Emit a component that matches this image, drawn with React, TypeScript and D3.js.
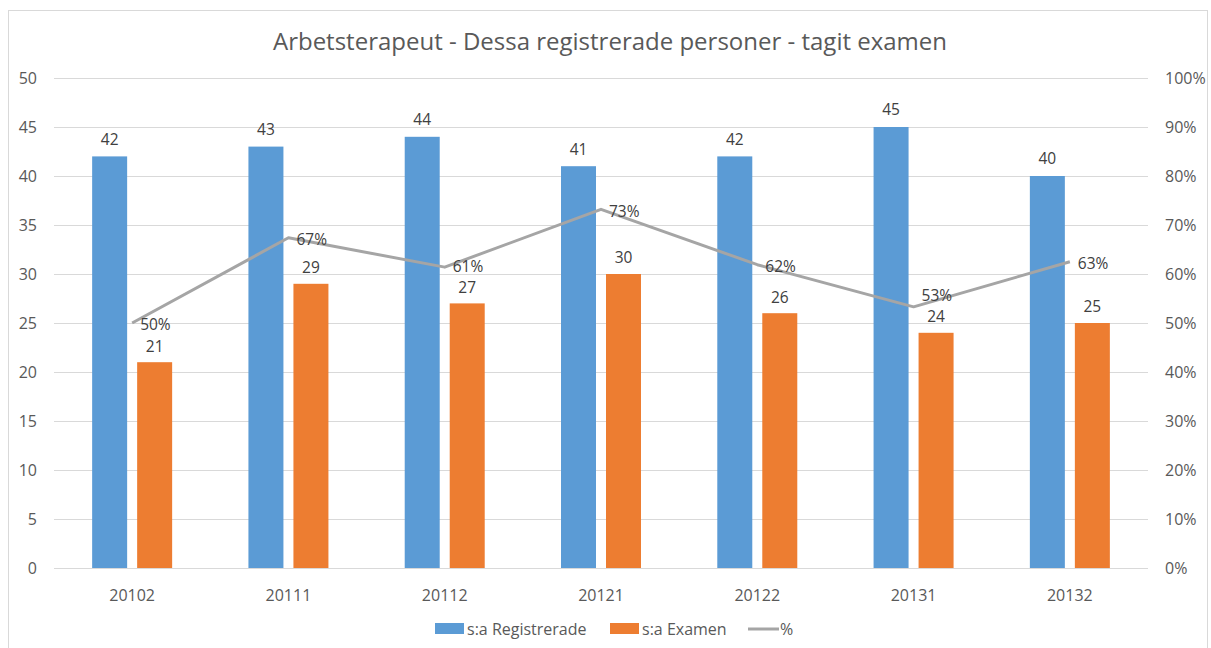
import React, { useEffect, useRef } from 'react';
import * as d3 from 'd3';

const categories = ['20102', '20111', '20112', '20121', '20122', '20131', '20132'];
const registrerade = [42, 43, 44, 41, 42, 45, 40];
const examen = [21, 29, 27, 30, 26, 24, 25];
const percent = [0.5, 0.674, 0.614, 0.732, 0.619, 0.533, 0.625];
const percentLabels = ['50%', '67%', '61%', '73%', '62%', '53%', '63%'];
const leftTicks = [0, 5, 10, 15, 20, 25, 30, 35, 40, 45, 50];
const rightTicks = [0, 0.1, 0.2, 0.3, 0.4, 0.5, 0.6, 0.7, 0.8, 0.9, 1];

const W = 1211;
const H = 648;
const FONT = '"Open Sans", "Liberation Sans", sans-serif';

export default function App() {
  const ref = useRef<SVGSVGElement>(null);

  useEffect(() => {
    const svg = d3.select(ref.current);
    svg.selectAll('*').remove();

    const margin = { left: 54, right: 63, top: 78, bottom: 80 };
    const width = W - margin.left - margin.right;
    const height = H - margin.top - margin.bottom;

    // outer frame
    svg.append('rect')
      .attr('x', 8.5).attr('y', 10.5)
      .attr('width', W - 12).attr('height', H - 8)
      .attr('fill', '#fff').attr('stroke', '#d9d9d9');

    svg.append('text')
      .attr('x', 610).attr('y', 50)
      .attr('text-anchor', 'middle')
      .attr('font-size', '24px')
      .attr('fill', '#595959')
      .text('Arbetsterapeut - Dessa registrerade personer - tagit examen');

    const g = svg.append('g').attr('transform', `translate(${margin.left}, ${margin.top})`);

    const x = d3.scaleBand().domain(categories).range([0, width]);
    const y = d3.scaleLinear().domain([0, 50]).range([height, 0]);
    const y2 = d3.scaleLinear().domain([0, 1]).range([height, 0]);

    // grid
    g.selectAll('.grid').data(leftTicks).enter().append('line')
      .attr('x1', 0).attr('x2', width)
      .attr('y1', d => Math.round(y(d)) + 0.5).attr('y2', d => Math.round(y(d)) + 0.5)
      .attr('stroke', '#d9d9d9').attr('stroke-width', 1);

    // left axis labels
    g.selectAll('.ly').data(leftTicks).enter().append('text')
      .attr('x', -17).attr('y', d => y(d)).attr('dy', '0.35em')
      .attr('text-anchor', 'end').attr('font-size', '16px').attr('fill', '#595959')
      .text(d => d);

    // right axis labels
    g.selectAll('.ry').data(rightTicks).enter().append('text')
      .attr('x', width + 17).attr('y', d => y2(d)).attr('dy', '0.35em')
      .attr('text-anchor', 'start').attr('font-size', '16px').attr('fill', '#595959')
      .text(d => d3.format('.0%')(d));

    // x labels
    g.selectAll('.xl').data(categories).enter().append('text')
      .attr('x', d => x(d)! + x.bandwidth() / 2).attr('y', height + 27).attr('dy', '0.35em')
      .attr('text-anchor', 'middle').attr('font-size', '16px').attr('fill', '#595959')
      .text(d => d);

    const barW = 35;
    const gap = 10;
    const center = (c: string) => x(c)! + x.bandwidth() / 2;

    g.selectAll('.reg').data(categories).enter().append('rect')
      .attr('x', (c) => center(c) - gap / 2 - barW)
      .attr('y', (c, i) => y(registrerade[i]))
      .attr('width', barW)
      .attr('height', (c, i) => height - y(registrerade[i]))
      .attr('fill', '#5b9bd5');

    g.selectAll('.exa').data(categories).enter().append('rect')
      .attr('x', (c) => center(c) + gap / 2)
      .attr('y', (c, i) => y(examen[i]))
      .attr('width', barW)
      .attr('height', (c, i) => height - y(examen[i]))
      .attr('fill', '#ed7d31');

    const labelGap = 16;

    g.selectAll('.regl').data(categories).enter().append('text')
      .attr('x', (c) => center(c) - gap / 2 - barW / 2)
      .attr('y', (c, i) => y(registrerade[i]) - 17).attr('dy', '0.35em')
      .attr('text-anchor', 'middle').attr('font-size', '15.5px').attr('fill', '#404040')
      .text((c, i) => registrerade[i]);

    g.selectAll('.exal').data(categories).enter().append('text')
      .attr('x', (c) => center(c) + gap / 2 + barW / 2)
      .attr('y', (c, i) => y(examen[i]) - labelGap).attr('dy', '0.35em')
      .attr('text-anchor', 'middle').attr('font-size', '15.5px').attr('fill', '#404040')
      .text((c, i) => examen[i]);

    const line = d3.line<number>()
      .x((d, i) => center(categories[i]))
      .y(d => y2(d));

    g.append('path')
      .datum(percent)
      .attr('d', line)
      .attr('fill', 'none')
      .attr('stroke', '#a5a5a5')
      .attr('stroke-width', 3)
      .attr('stroke-linejoin', 'round');

    // percent labels right of the point, nudged up if they would hit the bar label
    g.selectAll('.pl').data(percent).enter().append('text')
      .attr('x', (d, i) => center(categories[i]) + 8)
      .attr('y', (d, i) => Math.min(y2(d) + 2, y(examen[i]) - labelGap - 21))
      .attr('dy', '0.35em')
      .attr('font-size', '15.5px').attr('fill', '#404040')
      .text((d, i) => percentLabels[i]);

    // legend
    const leg = svg.append('g').attr('font-size', '16px').attr('fill', '#595959');
    leg.append('rect').attr('x', 435).attr('y', 623).attr('width', 29).attr('height', 11).attr('fill', '#5b9bd5');
    leg.append('text').attr('x', 467).attr('y', 629).attr('dy', '0.35em').text('s:a Registrerade');
    leg.append('rect').attr('x', 610).attr('y', 623).attr('width', 29).attr('height', 11).attr('fill', '#ed7d31');
    leg.append('text').attr('x', 642).attr('y', 629).attr('dy', '0.35em').text('s:a Examen');
    leg.append('line').attr('x1', 748).attr('x2', 779).attr('y1', 629).attr('y2', 629)
      .attr('stroke', '#a5a5a5').attr('stroke-width', 3);
    leg.append('text').attr('x', 780).attr('y', 629).attr('dy', '0.35em').text('%');
  }, []);

  return (
    <svg ref={ref} width={W} height={H} style={{ position: 'absolute', left: 0, top: 0, fontFamily: FONT }} />
  );
}
